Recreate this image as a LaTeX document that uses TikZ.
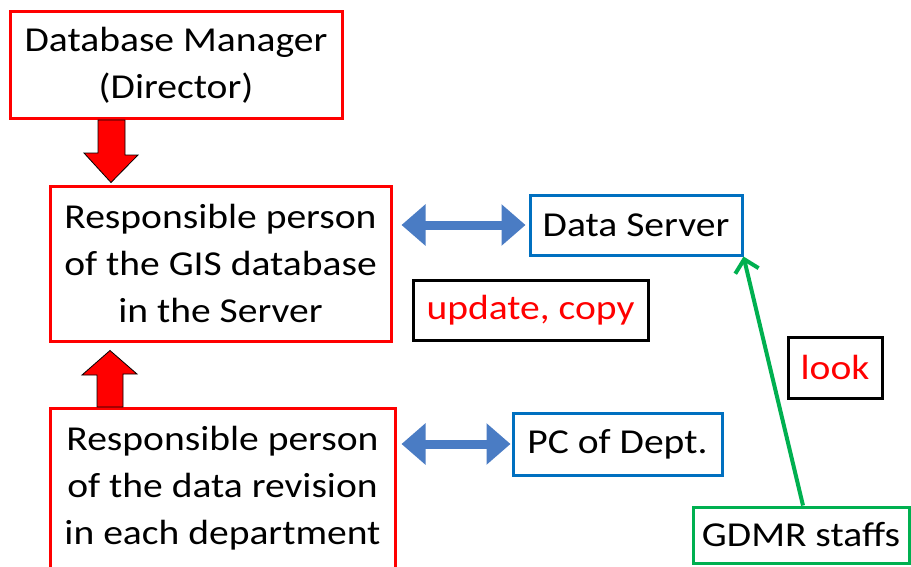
\documentclass[tikz,border=0pt]{standalone}
\usepackage{fontspec}
\setmainfont{Carlito}[FakeStretch=1.13]
\usepackage{xcolor}
\definecolor{chart-red}{HTML}{FF0000}
\definecolor{chart-blue}{HTML}{0070C0}
\definecolor{chart-green}{HTML}{00B050}
\definecolor{chart-link}{HTML}{4A7CC4}
\usepackage{tikz}
\usetikzlibrary{arrows.meta,calc}

\tikzset{
  chartbox/.style={line width=3pt, align=center, inner sep=0pt,
    font=\fontsize{35}{47}\selectfont},
  redbox/.style={chartbox, draw=chart-red},
  bluebox/.style={chartbox, draw=chart-blue},
  greenbox/.style={chartbox, draw=chart-green},
  tagbox/.style={chartbox, draw=black, text=chart-red},
  blockarrow/.style={fill=chart-red, draw=black, line width=0.8pt},
  linkarrow/.style={draw=chart-link, line width=9pt,
    {Triangle[width=40pt,length=24pt]}-{Triangle[width=40pt,length=24pt]}},
  lookarrow/.style={draw=chart-green, line width=4pt,
    -{Straight Barb[length=12pt,width=24pt]}}
}

\begin{document}
\begin{tikzpicture}[x=1pt, y=-1pt]

    % Frame
    \useasboundingbox (0,0) rectangle (911,566);
    \fill[white] (0,0) rectangle (911,566);

% Boxes
\node[redbox, minimum width=332, minimum height=107] (manager) at (176,65)
  {Database Manager\\(Director)};
\node[redbox, minimum width=341, minimum height=155] (gisperson) at (220.5,263.5)
  {Responsible person\\of the GIS database\\in the Server};
\node[redbox, minimum width=345, minimum height=160] (revperson) at (222.5,488.5)
  {Responsible person\\of the data revision\\in each department};
\node[bluebox, minimum width=212, minimum height=60] (server) at (636,225) {Data Server};
\node[bluebox, minimum width=209, minimum height=62] (deptpc) at (617.5,444) {PC of Dept.};
\node[greenbox, minimum width=216, minimum height=56] (staffs) at (801,535) {GDMR staffs};
\node[tagbox, minimum width=235, minimum height=60] (update) at (530.5,310) {update, copy};
\node[tagbox, minimum width=94, minimum height=61] (look) at (835,367.5) {look};

% Red block arrows
\filldraw[blockarrow]
  (manager.south -| 98,0) -- ++(27,0) -- ++(0,35) -- ++(13,0)
  -- ($(gisperson.north -| 111,0)+(0,-2)$) -- (84,153) -- (98,153) -- cycle;
\filldraw[blockarrow]
  (revperson.north -| 97,0) -- ++(26,0) -- ++(0,-33) -- ++(14,0)
  -- ($(gisperson.south -| 110,0)+(0,8)$) -- (82,375) -- (97,375) -- cycle;

% Blue double arrows
\draw[linkarrow, shorten <=9pt, shorten >=3pt] (server.west -| gisperson.east) -- (server.west);
\draw[linkarrow, shorten <=5pt, shorten >=1pt] (deptpc.west -| revperson.east) -- (deptpc.west);

% Green arrow
\draw[lookarrow] (staffs.north -| 803,0) -- (server.south east);

\end{tikzpicture}
\end{document}
